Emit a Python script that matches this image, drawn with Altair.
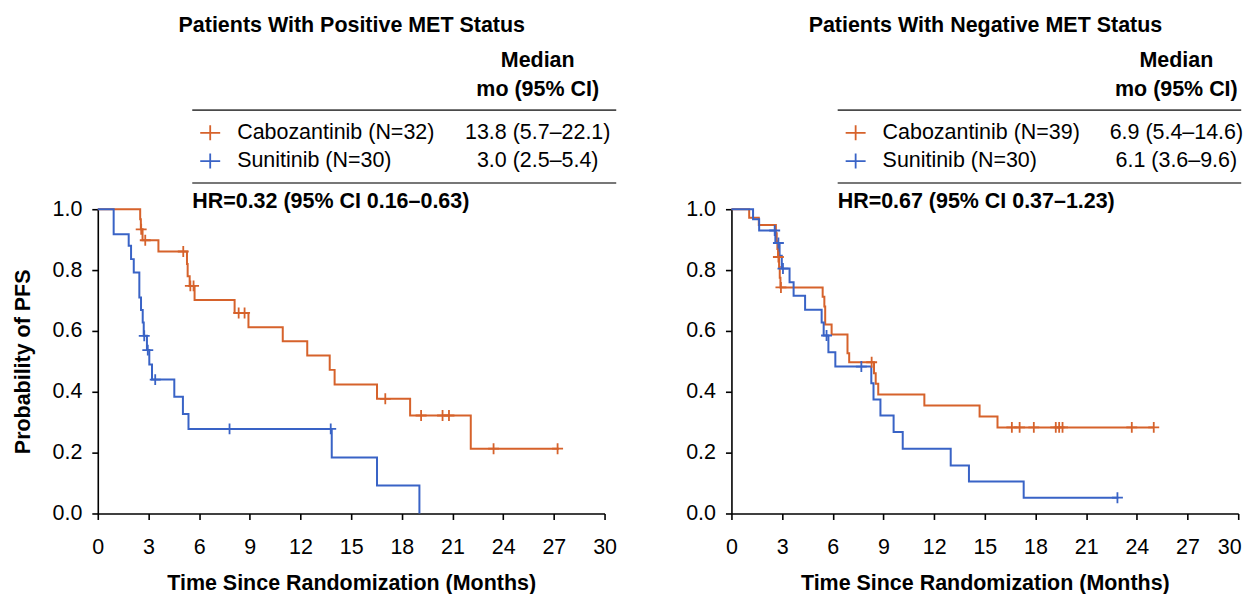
import altair as alt
import pandas as pd

# ---------------- data ----------------
ARMS = ["Cabozantinib", "Sunitinib"]

# Positive MET status
POS_CABO_T = [0, 2.51, 2.55, 2.65, 3.59, 5.28, 5.32, 5.44, 5.73, 8.10, 8.92, 10.95, 12.40, 13.73, 14.02, 16.53, 18.49, 22.08, 27.30]
POS_CABO_S = [1.0, 0.967, 0.934, 0.898, 0.861, 0.820, 0.780, 0.748, 0.702, 0.659, 0.612, 0.566, 0.519, 0.472, 0.424, 0.377, 0.322, 0.213, 0.213]
POS_CABO_CENS = [2.57, 2.81, 5.06, 5.48, 5.67, 8.34, 8.69, 17.02, 19.14, 20.41, 20.79, 23.43, 27.22]

POS_SUNI_T = [0, 0.94, 1.83, 1.97, 2.13, 2.46, 2.56, 2.66, 2.72, 2.91, 3.05, 3.21, 4.53, 5.04, 5.37, 13.85, 16.53, 19.04]
POS_SUNI_S = [1.0, 0.918, 0.880, 0.836, 0.792, 0.710, 0.669, 0.628, 0.584, 0.537, 0.490, 0.440, 0.384, 0.327, 0.278, 0.184, 0.092, 0.0]
POS_SUNI_CENS = [2.75, 2.96, 3.40, 7.80, 13.79]

# Negative MET status
NEG_CABO_T = [0, 1.05, 1.62, 2.63, 2.68, 2.72, 2.76, 2.82, 2.86, 2.90, 5.40, 5.50, 5.55, 5.93, 6.87, 6.97, 8.44, 8.54, 8.69, 11.42, 14.69, 15.75, 25.0]
NEG_CABO_S = [1.0, 0.972, 0.948, 0.921, 0.895, 0.869, 0.843, 0.810, 0.775, 0.743, 0.712, 0.680, 0.621, 0.588, 0.527, 0.497, 0.461, 0.426, 0.391, 0.355, 0.319, 0.283, 0.283]
NEG_CABO_CENS = [2.78, 2.93, 8.30, 16.6, 17.06, 17.9, 19.2, 19.4, 19.6, 23.7, 25.0]

NEG_SUNI_T = [0, 1.28, 1.64, 2.60, 2.85, 2.98, 3.44, 3.68, 4.36, 5.34, 5.46, 5.74, 6.15, 8.28, 8.41, 8.82, 9.60, 10.14, 12.98, 14.06, 17.30, 22.9]
NEG_SUNI_S = [1.0, 0.967, 0.930, 0.889, 0.847, 0.805, 0.760, 0.716, 0.670, 0.628, 0.585, 0.530, 0.483, 0.428, 0.375, 0.322, 0.268, 0.213, 0.158, 0.105, 0.052, 0.052]
NEG_SUNI_CENS = [2.56, 2.78, 3.05, 5.63, 7.69, 22.85]

X_TICKS = list(range(0, 31, 3))
Y_TICKS = [0.0, 0.2, 0.4, 0.6, 0.8, 1.0]

TITLES = ["Patients With Positive MET Status", "Patients With Negative MET Status"]
LEGEND_LABELS = [["Cabozantinib (N=32)", "Sunitinib (N=30)"], ["Cabozantinib (N=39)", "Sunitinib (N=30)"]]
MEDIANS = [["13.8 (5.7–22.1)", "3.0 (2.5–5.4)"], ["6.9 (5.4–14.6)", "6.1 (3.6–9.6)"]]
HR_TEXT = ["HR=0.32 (95% CI 0.16–0.63)", "HR=0.67 (95% CI 0.37–1.23)"]

# ---------------- styling ----------------
ORANGE = "#D6622B"
BLUE = "#3963C6"
FONT = "Liberation Sans"
FS = 21.5
W, H = 508, 305
CROSS = "M-1,0L1,0M0,-1L0,1"
LEG_CROSS = "M-1,0L1,0M0,-0.75L0,0.75"

dummy = pd.DataFrame({"k": [0]})


def step_value(ts, ss, t):
    v = ss[0]
    for ti, si in zip(ts, ss):
        if ti <= t:
            v = si
    return v


def txt(s, x, y, bold=False, align="left", size=FS):
    return alt.Chart(dummy).mark_text(
        text=s, align=align, baseline="middle", fontSize=size,
        fontWeight="bold" if bold else "normal", font=FONT, color="black"
    ).encode(x=alt.value(x), y=alt.value(y))


def hrule(x1, x2, y, opacity=1.0):
    return alt.Chart(dummy).mark_rule(color="#4a4a4a", strokeWidth=1.6, opacity=opacity).encode(
        x=alt.value(x1), x2=alt.value(x2), y=alt.value(y)
    )


def legcross(x, y, color):
    return alt.Chart(dummy).mark_point(
        shape=LEG_CROSS, size=400, filled=False, strokeWidth=1.8, color=color, opacity=1
    ).encode(x=alt.value(x), y=alt.value(y))


def panel(idx, cab, suni, show_ytitle, x0, vals_c, rule_end, anchor, keep_last_inside):
    cab_t, cab_s, cab_c = cab
    sun_t, sun_s, sun_c = suni
    curves = pd.concat([
        pd.DataFrame({"t": cab_t, "s": cab_s, "arm": ARMS[0]}),
        pd.DataFrame({"t": sun_t, "s": sun_s, "arm": ARMS[1]}),
    ])
    cens = pd.concat([
        pd.DataFrame({"t": cab_c, "s": [step_value(cab_t, cab_s, c) for c in cab_c], "arm": ARMS[0]}),
        pd.DataFrame({"t": sun_c, "s": [step_value(sun_t, sun_s, c) for c in sun_c], "arm": ARMS[1]}),
    ])
    color = alt.Color("arm:N", scale=alt.Scale(domain=ARMS, range=[ORANGE, BLUE]), legend=None)
    xaxis = dict(values=X_TICKS, title="Time Since Randomization (Months)",
                 titleX=W / 2, titleY=70, titleBaseline="middle", titleAlign="center",
                 labelBaseline="middle", labelPadding=28)
    if keep_last_inside:
        xaxis.update(
            labelAlign={"condition": {"test": "datum.value >= 30", "value": "right"}, "value": "center"},
            labelOffset={"condition": {"test": "datum.value >= 30", "value": 3}, "value": 0},
        )
    x = alt.X("t:Q", scale=alt.Scale(domain=[0, 30], nice=False), axis=alt.Axis(**xaxis))
    yaxis = dict(values=Y_TICKS, format=".1f", labelPadding=10)
    if show_ytitle:
        yaxis.update(title="Probability of PFS", titleX=-74, titleY=H / 2, titleAngle=270,
                     titleBaseline="middle", titleAlign="center")
    else:
        yaxis.update(title=None)
    y = alt.Y("s:Q", scale=alt.Scale(domain=[0, 1], nice=False), axis=alt.Axis(**yaxis))

    lines = alt.Chart(curves).mark_line(interpolate="step-after", strokeWidth=2).encode(x=x, y=y, color=color)
    marks = alt.Chart(cens).mark_point(shape=CROSS, size=120, filled=False, strokeWidth=1.8, opacity=1).encode(
        x=x, y=y, color=color)

    layers = [lines, marks]
    layers.append(txt(TITLES[idx], 254.6, -183.3, bold=True, align="center"))
    layers.append(txt("Median", vals_c, -148.3, bold=True, align="center"))
    layers.append(txt("mo (95% CI)", vals_c, -119.5, bold=True, align="center"))
    layers.append(hrule(x0, rule_end, -99.3))
    layers.append(legcross(x0 + 18, -76.6, ORANGE))
    layers.append(txt(LEGEND_LABELS[idx][0], x0 + 45, -76.6))
    layers.append(txt(MEDIANS[idx][0], vals_c, -76.6, align="center"))
    layers.append(legcross(x0 + 18, -48.3, BLUE))
    layers.append(txt(LEGEND_LABELS[idx][1], x0 + 45, -48.3))
    layers.append(txt(MEDIANS[idx][1], vals_c, -48.3, align="center"))
    layers.append(hrule(x0, rule_end, -26.3))
    layers.append(txt(HR_TEXT[idx], x0, -7.5, bold=True))
    # invisible frame anchors fixing the overall page extent
    layers.append(hrule(anchor[0], anchor[1], anchor[2], opacity=0))
    return alt.layer(*layers).properties(width=W, height=H)


left = panel(0, (POS_CABO_T, POS_CABO_S, POS_CABO_CENS), (POS_SUNI_T, POS_SUNI_S, POS_SUNI_CENS),
             True, 94.7, 441.0, 519.7, (-89.3, 0, -200.3), False)
right = panel(1, (NEG_CABO_T, NEG_CABO_S, NEG_CABO_CENS), (NEG_SUNI_T, NEG_SUNI_S, NEG_SUNI_CENS),
              False, 106.5, 446.0, 511.0, (0, 511.0, 383.7), True)

chart = alt.hconcat(left, right, spacing=127.2).properties(
    bounds="flush", padding=0
).configure_view(stroke=None).configure_axis(
    grid=False, domainColor="black", domainWidth=1.6, tickColor="black", tickWidth=1.6, tickSize=6,
    labelColor="black", labelFont=FONT, labelFontSize=FS, titleFont=FONT, titleFontSize=FS,
    titleFontWeight="bold", titleColor="black", labelFlush=False
)

chart.save("out.html", embed_options={"renderer": "svg", "actions": False})
